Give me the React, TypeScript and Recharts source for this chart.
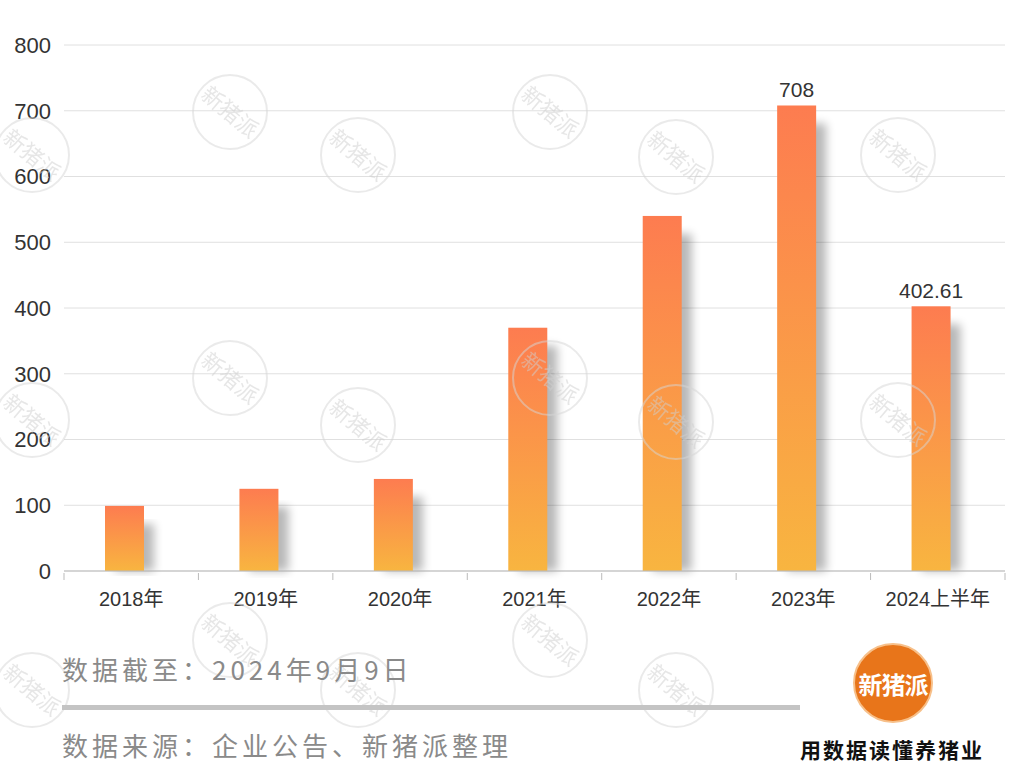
import React from 'react'
import { BarChart, Bar, XAxis, YAxis, CartesianGrid, LabelList } from 'recharts'

const years = ['2018年', '2019年', '2020年', '2021年', '2022年', '2023年', '2024上半年']
const values = [99, 125, 140, 370, 540, 708, 402.61]
const valueLabels = ['', '', '', '', '', '708', '402.61']
const yTicks = [0, 100, 200, 300, 400, 500, 600, 700, 800]

const data = years.map((year, i) => ({ year, value: values[i], label: valueLabels[i] }))

const FONT = '"Liberation Sans", "Noto Sans CJK SC", sans-serif'
const CJK = '"Noto Sans CJK SC", "Liberation Sans", sans-serif'
const SHIFT = -7

const GradientBar = (props: any) => {
  const { x, y, width, height } = props
  if (!height || height <= 0) return null
  const bx = x + SHIFT
  return (
    <g>
      <rect
        x={bx + 10}
        y={y + 18}
        width={width}
        height={Math.max(height - 18, 0)}
        fill="#000"
        opacity={0.28}
        filter="url(#barShadow)"
      />
      <rect x={bx} y={y} width={width} height={height} fill="url(#barFill)" />
    </g>
  )
}

const TopLabel = (props: any) => {
  const { x, y, width, value } = props
  if (!value) return null
  return (
    <text x={x + SHIFT + width / 2} y={y - 8} textAnchor="middle" fill="#333" fontSize={21} fontFamily={FONT}>
      {value}
    </text>
  )
}

const XTick = (props: any) => {
  const { x, y, payload, index, visibleTicksCount } = props
  const off = payload.offset || 0
  return (
    <g>
      <line x1={x - off} y1={y} x2={x - off} y2={y + 7} stroke="#bbb" />
      {index === visibleTicksCount - 1 && <line x1={x + off} y1={y} x2={x + off} y2={y + 7} stroke="#bbb" />}
      <text x={x} y={y + 33} textAnchor="middle" fill="#333" fontSize={20} fontFamily={FONT}>
        {payload.value}
      </text>
    </g>
  )
}

const marks = [
  [230, 112], [358, 155], [550, 112], [676, 157], [898, 155], [32, 155],
  [230, 378], [358, 425], [550, 378], [676, 422], [898, 420], [32, 420],
  [230, 640], [358, 690], [550, 640], [676, 690], [32, 690],
]

const Watermarks = () => (
  <svg width={1021} height={769} style={{ position: 'absolute', left: 0, top: 0, pointerEvents: 'none' }}>
    {marks.map(([cx, cy], i) => (
      <g key={i} opacity={0.5}>
        <circle cx={cx} cy={cy} r={37} fill="none" stroke="#d6d6d6" strokeWidth={2} />
        <text
          x={cx}
          y={cy + 8}
          textAnchor="middle"
          fontSize={22}
          fill="#cfcfcf"
          fontFamily={CJK}
          transform={`rotate(40 ${cx} ${cy})`}
        >
          新猪派
        </text>
      </g>
    ))}
  </svg>
)

export default function App() {
  return (
    <div style={{ position: 'absolute', left: 0, top: 0, width: 1021, height: 769, background: '#fff', overflow: 'hidden' }}>
      <BarChart width={1021} height={620} data={data} margin={{ top: 45, right: 16, bottom: 9, left: 0 }}>
        <defs>
          <linearGradient id="barFill" x1="0" y1="0" x2="0" y2="1">
            <stop offset="0%" stopColor="#fd7c50" />
            <stop offset="100%" stopColor="#f8b540" />
          </linearGradient>
          <filter id="barShadow" x="-50%" y="-10%" width="200%" height="120%">
            <feGaussianBlur stdDeviation="5" />
          </filter>
        </defs>
        <CartesianGrid vertical={false} stroke="#e0e0e0" />
        <YAxis
          width={64}
          domain={[0, 800]}
          ticks={yTicks}
          axisLine={false}
          tickLine={false}
          tickSize={0}
          tickMargin={13}
          tick={{ fill: '#333', fontSize: 22, fontFamily: FONT }}
        />
        <XAxis
          dataKey="year"
          height={40}
          axisLine={{ stroke: '#bbb' }}
          tickLine={false}
          tickSize={0}
          tick={<XTick />}
          interval={0}
        />
        <Bar dataKey="value" barSize={39} shape={<GradientBar />} isAnimationActive={false}>
          <LabelList dataKey="label" content={<TopLabel />} />
        </Bar>
      </BarChart>
      <Watermarks />
      <div style={{ position: 'absolute', left: 62, top: 650, fontFamily: CJK, fontSize: 26, color: '#8a8a8a', letterSpacing: 4 }}>
        数据截至：2024年9月9日
      </div>
      <div style={{ position: 'absolute', left: 62, top: 705, width: 738, height: 5, background: '#c4c4c4' }} />
      <div style={{ position: 'absolute', left: 62, top: 726, fontFamily: CJK, fontSize: 26, color: '#8a8a8a', letterSpacing: 4 }}>
        数据来源：企业公告、新猪派整理
      </div>
      <div
        style={{
          position: 'absolute', left: 853, top: 643, width: 80, height: 80, borderRadius: '50%',
          background: '#e8751a', border: '2px solid #f7c08a', boxSizing: 'border-box',
          display: 'flex', alignItems: 'center', justifyContent: 'center',
          color: '#fff', fontFamily: CJK, fontSize: 24, fontWeight: 700, letterSpacing: -1,
        }}
      >
        新猪派
      </div>
      <div style={{ position: 'absolute', left: 800, top: 734, fontFamily: CJK, fontSize: 21, fontWeight: 700, color: '#111', letterSpacing: 2 }}>
        用数据读懂养猪业
      </div>
    </div>
  )
}
